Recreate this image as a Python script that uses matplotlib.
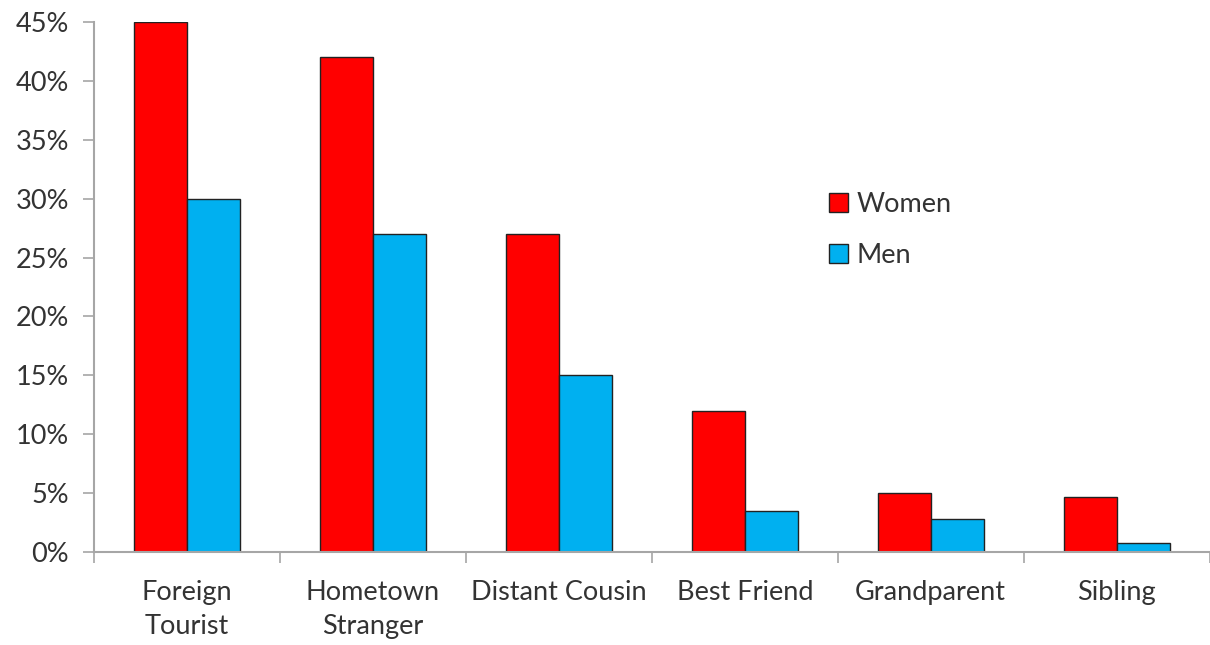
import matplotlib
matplotlib.use("Agg")
import matplotlib.pyplot as plt
import numpy as np
from matplotlib.patches import Patch

categories = ["Foreign\nTourist", "Hometown\nStranger", "Distant Cousin", "Best Friend", "Grandparent", "Sibling"]
women = [45, 42, 27, 12, 5, 4.7]
men = [30, 27, 15, 3.5, 2.8, 0.8]
yticks = [0, 5, 10, 15, 20, 25, 30, 35, 40, 45]

plt.rcParams['font.family'] = ['Lato', 'DejaVu Sans']
fig = plt.figure(figsize=(12.1, 6.45), dpi=100)
ax = fig.add_axes([0.0777, 0.144, 0.922, 0.822])

x = np.arange(len(categories))
w = 0.285
red = "#ff0000"
blue = "#00b0f0"
ax.bar(x - w/2, women, w, color=red, edgecolor="#222222", linewidth=1.0, label="Women")
ax.bar(x + w/2, men, w, color=blue, edgecolor="#222222", linewidth=1.0, label="Men")

ax.set_xlim(-0.5, len(categories) - 0.5)
ax.set_ylim(0, 45)
ax.set_yticks(yticks)
ax.set_yticklabels([f"{v}%" for v in yticks], fontsize=19.5, color="#333333")
ax.set_xticks(x)
ax.set_xticklabels(categories, fontsize=19.5, color="#333333", linespacing=1.45)
ax.set_xticks(np.arange(-0.5, len(categories) + 0.5, 1), minor=True)
ax.tick_params(axis="x", which="major", length=0, pad=20)
ax.tick_params(axis="x", which="minor", length=8, color="#a6a6a6", width=1.2, direction="out")
ax.tick_params(axis="y", length=8, color="#a6a6a6", width=1.2, direction="out", pad=10)

for s in ["top", "right"]:
    ax.spines[s].set_visible(False)
for s in ["left", "bottom"]:
    ax.spines[s].set_color("#a6a6a6")
    ax.spines[s].set_linewidth(1.5)

handles = [Patch(facecolor=red, edgecolor="#222222", label="Women"),
           Patch(facecolor=blue, edgecolor="#222222", label="Men")]
ax.legend(handles=handles, loc="center left", bbox_to_anchor=(0.659, 0.608), frameon=False,
          fontsize=19.5, handlelength=0.7, handleheight=0.7, handletextpad=0.3, labelspacing=0.95,
          borderpad=0, borderaxespad=0, labelcolor="#333333")

fig.savefig("out.png", dpi=100)
